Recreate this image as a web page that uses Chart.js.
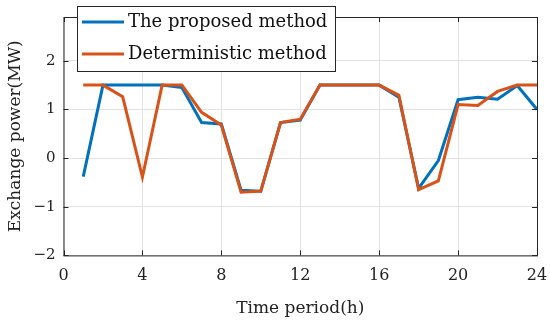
<!DOCTYPE html>
<html>
<head>
<meta charset="utf-8">
<script src="https://cdn.jsdelivr.net/npm/chart.js@4/dist/chart.umd.min.js"></script>
<style>
  html, body { margin: 0; padding: 0; background: #fff; }
  #wrap { width: 550px; height: 322px; }
</style>
</head>
<body>
<div id="wrap"><canvas id="myChart" width="550" height="322"></canvas></div>
<script>
// hours 1..24
const hours = [1, 2, 3, 4, 5, 6, 7, 8, 9, 10, 11, 12, 13, 14, 15, 16, 17, 18, 19, 20, 21, 22, 23, 24];
const proposed = [-0.38, 1.5, 1.5, 1.5, 1.5, 1.45, 0.73, 0.7, -0.66, -0.68, 0.73, 0.78,
                  1.5, 1.5, 1.5, 1.5, 1.25, -0.62, -0.05, 1.2, 1.25, 1.21, 1.49, 1.0];
const deterministic = [1.5, 1.5, 1.26, -0.39, 1.5, 1.5, 0.94, 0.68, -0.7, -0.68, 0.73, 0.8,
                       1.5, 1.5, 1.5, 1.5, 1.29, -0.65, -0.47, 1.1, 1.08, 1.37, 1.5, 1.5];
const xTicks = [0, 4, 8, 12, 16, 20, 24];
const yTicks = [-2, -1, 0, 1, 2];
const labels = ['The proposed method', 'Deterministic method'];

const serif = '"DejaVu Serif", "Liberation Serif", serif';

// box around plot + inward ticks + boxed legend, MATLAB style
const frame = {
  id: 'frame',
  afterDatasetsDraw(chart) {
    const {ctx, chartArea: a, scales} = chart;
    ctx.save();
    ctx.strokeStyle = '#262626';
    ctx.lineWidth = 1;
    ctx.strokeRect(a.left + 0.5, a.top + 0.5, a.right - a.left, a.bottom - a.top);
    ctx.beginPath();
    xTicks.forEach(v => {
      const px = Math.round(scales.x.getPixelForValue(v)) + 0.5;
      ctx.moveTo(px, a.bottom); ctx.lineTo(px, a.bottom - 5);
      ctx.moveTo(px, a.top); ctx.lineTo(px, a.top + 5);
    });
    yTicks.forEach(v => {
      const py = Math.round(scales.y.getPixelForValue(v)) + 0.5;
      ctx.moveTo(a.left, py); ctx.lineTo(a.left + 5, py);
      ctx.moveTo(a.right, py); ctx.lineTo(a.right - 5, py);
    });
    ctx.stroke();

    // legend
    const bx = 77, by = 6, bw = 258, bh = 65;
    ctx.fillStyle = '#fff';
    ctx.fillRect(bx, by, bw, bh);
    ctx.strokeStyle = '#262626';
    ctx.strokeRect(bx + 0.5, by + 0.5, bw, bh);
    ctx.font = '18px ' + serif;
    ctx.textBaseline = 'middle';
    chart.data.datasets.forEach((ds, i) => {
      const y = by + 16 + i * 32;
      ctx.strokeStyle = ds.borderColor;
      ctx.lineWidth = 3;
      ctx.beginPath();
      ctx.moveTo(bx + 5, y); ctx.lineTo(bx + 47, y);
      ctx.stroke();
      ctx.fillStyle = '#111';
      ctx.fillText(ds.label, bx + 51, y);
    });
    ctx.restore();
  }
};

new Chart(document.getElementById('myChart'), {
  type: 'line',
  data: {
    datasets: [{
      label: labels[0],
      data: hours.map((h, i) => ({x: h, y: proposed[i]})),
      borderColor: '#0072BD',
      borderWidth: 3,
      pointRadius: 0,
      tension: 0,
      order: 2
    }, {
      label: labels[1],
      data: hours.map((h, i) => ({x: h, y: deterministic[i]})),
      borderColor: '#D95319',
      borderWidth: 3,
      pointRadius: 0,
      tension: 0,
      order: 1
    }]
  },
  options: {
    responsive: false,
    animation: false,
    layout: {padding: {top: 7, right: 13, left: 5, bottom: 3}},
    plugins: {legend: {display: false}, tooltip: {enabled: false}},
    scales: {
      x: {
        type: 'linear',
        min: 0, max: 24,
        afterBuildTicks: s => { s.ticks = xTicks.map(v => ({value: v})); },
        afterFit: s => { s.paddingRight = 0; },
        grid: {color: '#e3e3e3', drawTicks: false},
        border: {display: false},
        ticks: {color: '#222', font: {family: serif, size: 16}, padding: 10.5},
        title: {display: true, text: 'Time period(h)', color: '#222',
                font: {family: serif, size: 17}, padding: {top: 3, bottom: 0}}
      },
      y: {
        min: -2, max: 2.9,
        afterBuildTicks: s => { s.ticks = yTicks.map(v => ({value: v})); },
        grid: {color: '#e3e3e3', drawTicks: false},
        border: {display: false},
        ticks: {color: '#222', font: {family: serif, size: 15}, padding: 8,
                callback: v => v < 0 ? '\u2212' + Math.abs(v) : v},
        title: {display: true, text: 'Exchange power(MW)', color: '#222',
                font: {family: serif, size: 17}, padding: {top: 0, bottom: 0}}
      }
    }
  },
  plugins: [frame]
});
</script>
</body>
</html>
